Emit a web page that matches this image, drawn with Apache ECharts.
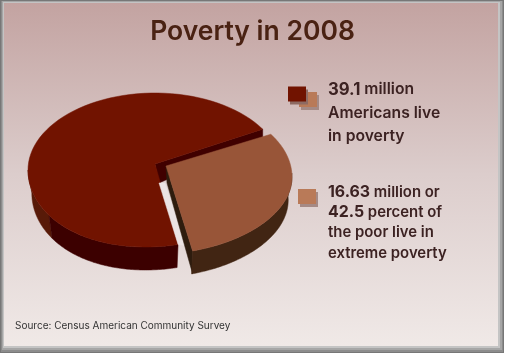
<!DOCTYPE html>
<html>
<head>
<meta charset="utf-8">
<style>
html, body { margin: 0; padding: 0; background: #fff; }
#chart { width: 505px; height: 354px; }
</style>
<script src="https://cdn.jsdelivr.net/npm/echarts@6/dist/echarts.min.js"></script>
</head>
<body>
<div id="chart"></div>
<script>
// data
const sliceNames = ['Americans in poverty', 'Extreme poverty'];
const sliceValues = [39.1, 16.63];
const titleText = 'Poverty in 2008';
const sourceText = 'Source: Census American Community Survey';

const chart = echarts.init(document.getElementById('chart'));
const total = sliceValues[0] + sliceValues[1];
const FONT = 'Inter';

// angle (radians, 0 = east, counter clockwise) where the two slices meet at the top right
const startAngle = 32 * Math.PI / 180;

const pieStyle = [
    { cx: 155, cy: 170, apex: [155, 164], rx: 127, ry: 77, depth: 23, top: '#711300', rim: '#3c0000', rimLeft: '#581a08', wall: '#400000' },
    { cx: 166, cy: 177, apex: [166, 166], rx: 126, ry: 77, depth: 23, top: '#985538', rim: '#412513', wall: '#2e1c0e' }
];

// point on the pie edge, the lower edge (dy > 0) is a bit narrower and the front leans left
function ellipsePt(s, a, dy) {
    const scale = dy ? 0.97 : 1;
    const down = s.ry * Math.sin(a);
    const lean = down < 0 ? 0.0016 * down * down : 0;
    return [s.cx + s.rx * scale * Math.cos(a) - lean, s.cy - down + (dy || 0)];
}

function arcPts(s, a0, a1, dy) {
    const pts = [];
    const n = 80;
    for (let i = 0; i <= n; i++) {
        pts.push(ellipsePt(s, a0 + (a1 - a0) * i / n, dy));
    }
    return pts;
}

function poly(points, fill) {
    return { type: 'polygon', shape: { points: points }, style: { fill: fill, stroke: fill, lineWidth: 0.5 } };
}

function renderSlice(params, api) {
    const idx = params.dataIndex;
    const s = pieStyle[idx];
    const sweep = api.value(1) / total * Math.PI * 2;
    const children = [];
    if (idx === 0) {
        // big slice goes counter clockwise from the top right round to the bottom
        const a0 = startAngle;
        const a1 = startAngle + sweep;
        const split = Math.PI * 1.2;
        const a0Pt = ellipsePt(s, a0);
        const a1Pt = ellipsePt(s, a1);
        // inner wall towards the small slice
        children.push(poly([s.apex, a0Pt, [a0Pt[0], a0Pt[1] + 8], [s.apex[0] + 4, s.apex[1] + 19]], s.wall));
        children.push(poly(arcPts(s, Math.PI, split).concat(arcPts(s, split, Math.PI, s.depth)), s.rimLeft));
        children.push(poly(arcPts(s, split, a1).concat(arcPts(s, a1, split, s.depth)), s.rim));
        children.push(poly([s.apex].concat(arcPts(s, a0, a1)), s.top));
        // pale gap between the slices
        children.push(poly([[s.apex[0] + 4, s.apex[1] + 19], [s.apex[0] + 10, s.apex[1] + 19], [a1Pt[0] + 8, a1Pt[1] + 1], [a1Pt[0], a1Pt[1]]], '#ebe3e3'));
    } else {
        const a0 = startAngle + 0.03;
        const a1 = a0 - sweep;
        const a1Pt = ellipsePt(s, a1);
        children.push(poly([s.apex, a1Pt, [a1Pt[0], a1Pt[1] + s.depth], [s.apex[0] + 1, s.apex[1] + 17]], s.wall));
        children.push(poly(arcPts(s, 0.05, a1).concat(arcPts(s, a1, 0.05, s.depth)), s.rim));
        children.push(poly([s.apex].concat(arcPts(s, a0, a1)), s.top));
    }
    return { type: 'group', children: children };
}

function legendSwatch(x, y, fill, shadow) {
    return [
        { type: 'rect', shape: { x: x + 2, y: y + 3, width: 18, height: 15 }, style: { fill: shadow }, z: 5 },
        { type: 'rect', shape: { x: x, y: y, width: 18, height: 15 }, style: { fill: fill }, z: 5 }
    ];
}

function legendText(x, y, lh, size, text) {
    return {
        type: 'text', x: x, y: y, z: 6,
        style: {
            text: text, lineHeight: lh, fill: '#3c2222', verticalAlign: 'top',
            font: '600 ' + size + 'px ' + FONT,
            rich: {
                b: { font: '700 ' + (size + 1) + 'px ' + FONT, fill: '#3c2222', lineHeight: lh },
                t: { font: '600 ' + size + 'px ' + FONT, fill: '#3c2222', lineHeight: lh }
            }
        }
    };
}

function bevel(x, y, w, h, fill) {
    return { type: 'rect', z: -2, shape: { x: x, y: y, width: w, height: h }, style: { fill: fill } };
}

const bg = new echarts.graphic.LinearGradient(0, 0, 0, 1, [
    { offset: 0, color: '#c3a3a1' },
    { offset: 0.5, color: '#dccdcc' },
    { offset: 1, color: '#f0e9e7' }
]);

const option = {
    animation: false,
    backgroundColor: '#ffffff',
    title: {
        text: titleText, left: 'center', top: 14,
        textStyle: { color: '#4a2213', fontFamily: FONT, fontWeight: 600, fontSize: 26.5 }
    },
    graphic: [
        bevel(0, 0, 504, 353, '#777777'),
        bevel(1, 1, 502, 351, '#8c8c8c'),
        bevel(2, 1, 500, 349, '#a6a6a6'),
        bevel(3, 2, 497, 346, '#c4c4c4'),
        { type: 'rect', z: -1, shape: { x: 4, y: 3, width: 494, height: 343 }, style: { fill: bg } },
        { type: 'text', x: 15, y: 321, z: 6, style: { text: sourceText, font: '400 10px ' + FONT, fill: '#333' } }
    ].concat(
        legendSwatch(299, 92, '#b97a58', '#a58a85'),
        legendSwatch(288, 86.5, '#711300', '#8e6a62'),
        legendSwatch(298, 189, '#b97a58', '#a58a85'),
        [
            legendText(328, 78, 23.5, 15.7, '{b|39.1} {t|million}\n{t|Americans live}\n{t|in poverty}'),
            legendText(328, 182, 20.4, 14.9, '{b|16.63} {t|million or}\n{b|42.5} {t|percent of}\n{t|the poor live in}\n{t|extreme poverty}')
        ]
    ),
    series: [{
        type: 'custom',
        coordinateSystem: 'none',
        renderItem: renderSlice,
        data: sliceValues.map(function (v, i) { return { name: sliceNames[i], value: [i, v] }; })
    }]
};

chart.setOption(option);
</script>
</body>
</html>
